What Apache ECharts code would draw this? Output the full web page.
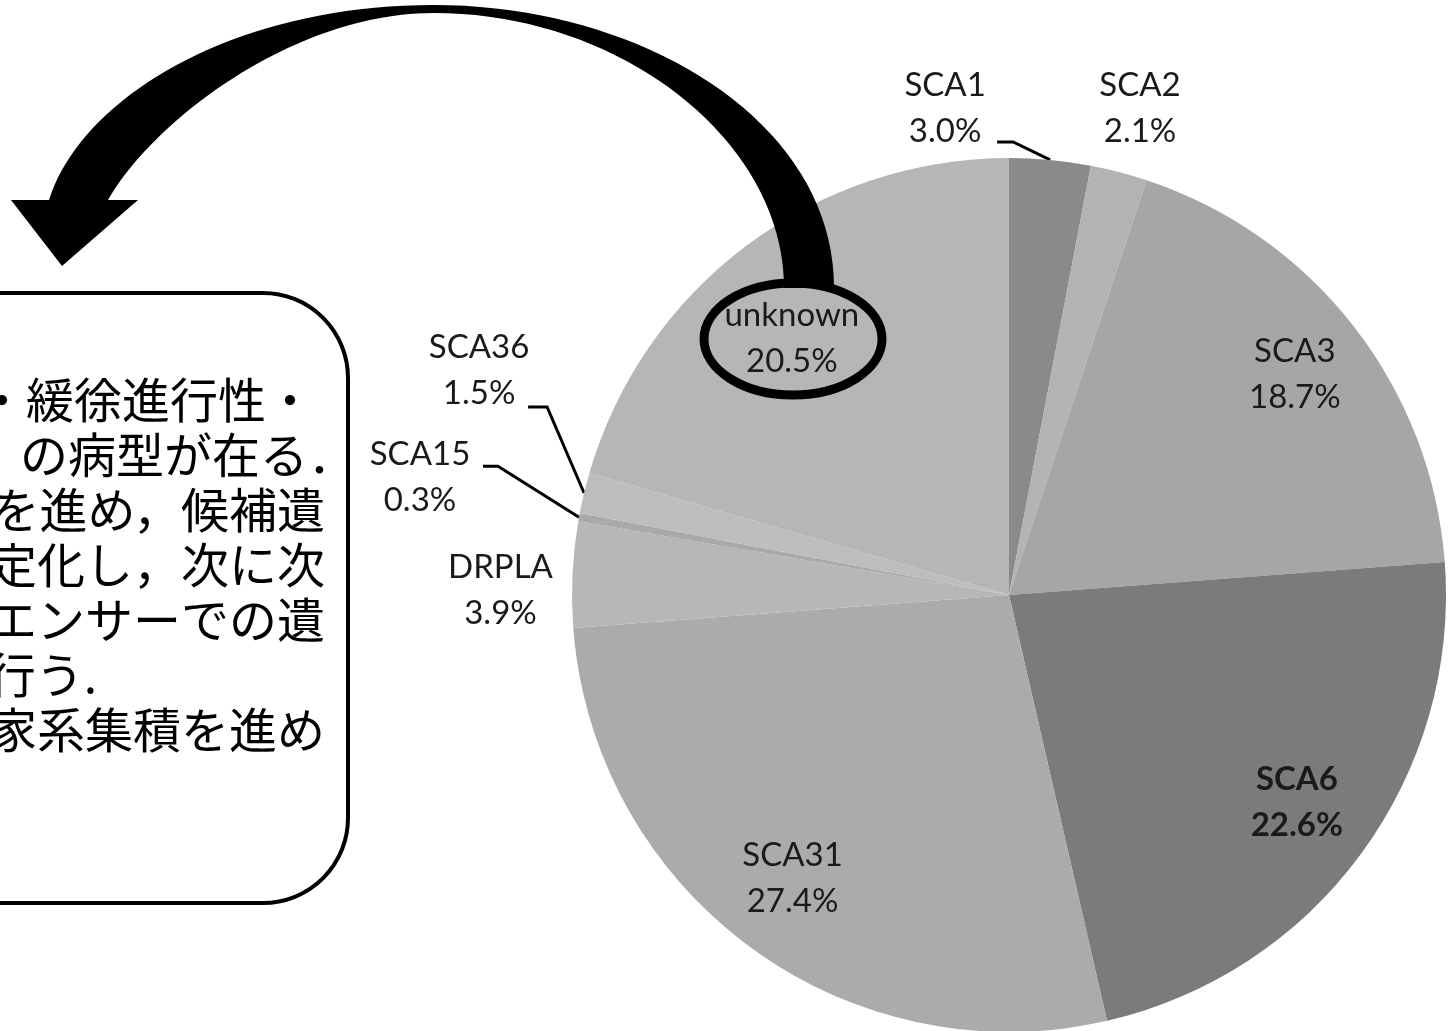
<!DOCTYPE html>
<html><head><meta charset="utf-8">
<script src="https://cdn.jsdelivr.net/npm/echarts@6/dist/echarts.min.js"></script>
<style>html,body{margin:0;padding:0;background:#fff}#c{width:1449px;height:1031px}</style>
</head><body><div id="c"></div>
<script>
// ---- data ----
const categories = ['SCA1', 'SCA2', 'SCA3', 'SCA6', 'SCA31', 'DRPLA', 'SCA15', 'SCA36', 'unknown'];
const percents = [3.0, 2.1, 18.7, 22.6, 27.4, 3.9, 0.3, 1.5, 20.5];
const boxLines = ['・緩徐進行性・', 'の病型が在る．', 'を進め，候補遺', '定化し，次に次', 'エンサーでの遺', '行う.', '家系集積を進め'];

// ---- styles ----
const sliceColors = ['#8a8a8a', '#b3b3b3', '#a6a6a6', '#7b7b7b', '#ababab', '#b7b7b7', '#a9a9a9', '#bdbdbd', '#b6b6b6'];
const insideNames = ['SCA3', 'SCA6', 'SCA31', 'unknown'];
const boldNames = ['SCA6'];
const CX = 1009, CY = 595, R = 437;
const insideNudge = { unknown: [-4, 27], SCA3: [6, -2], SCA6: [2, -3], SCA31: [-6, -3] };
const outsideLayout = {
  SCA1: { label: [-105, -52], line: [[-37, -18], [-53, -18]] },
  SCA2: { label: [21, -64] },
  DRPLA: { label: [-72, 16] },
  SCA15: { label: [-159, -40], line: [[-81, -51], [-96, -51]] },
  SCA36: { label: [-105, -123], line: [[-37, -86], [-56, -86]] }
};
const labelFont = { fontFamily: 'Lato', fontSize: 33, lineHeight: 46, color: '#1a1a1a' };

const total = percents.reduce((a, b) => a + b, 0);
function anchorOf(i) {
  let cum = 0;
  for (let k = 0; k < i; k++) cum += percents[k];
  const mid = (cum + percents[i] / 2) / total * 2 * Math.PI;
  return [CX + R * Math.sin(mid), CY - R * Math.cos(mid)];
}
const fmt = p => p.name + '\n' + Number(p.value).toFixed(1) + '%';

const mainData = categories.map((name, i) => ({
  name, value: percents[i],
  itemStyle: { color: sliceColors[i] },
  label: { show: !insideNames.includes(name) },
  labelLine: { show: !!(outsideLayout[name] && outsideLayout[name].line) }
}));
const ringData = categories.map((name, i) => ({
  name, value: percents[i],
  label: { show: insideNames.includes(name), fontWeight: boldNames.includes(name) ? 'bold' : 'normal' }
}));

// arrow outline built from bezier curves
function bez(p0, p1, p2, p3, n) {
  const pts = [];
  for (let s = 0; s <= n; s++) {
    const t = s / n, u = 1 - t;
    pts.push([
      u*u*u*p0[0] + 3*u*u*t*p1[0] + 3*u*t*t*p2[0] + t*t*t*p3[0],
      u*u*u*p0[1] + 3*u*u*t*p1[1] + 3*u*t*t*p2[1] + t*t*t*p3[1]
    ]);
  }
  return pts;
}
const innerRight = bez([434, 13], [620, 13], [784, 140], [784, 288], 40).reverse();
const innerLeft = bez([108, 200], [150, 125], [290, 13], [434, 13], 40).reverse();
const outerLeft = bez([49, 200], [80, 100], [230, 5], [434, 5], 40);
const outerRight = bez([434, 5], [640, 5], [834, 120], [834, 288], 40);
const arrowPts = [].concat(innerRight, innerLeft, [[138, 200], [62, 266], [11, 200]], outerLeft, outerRight);

const textLayout = [
  { x: 314, y: 400, align: 'right' }, { x: 20, y: 455, align: 'left' }, { x: 325, y: 510, align: 'right' },
  { x: 325, y: 565, align: 'right' }, { x: 325, y: 620, align: 'right' }, { x: 97, y: 675, align: 'right' },
  { x: 325, y: 730, align: 'right' }
];

const graphics = [
  { type: 'rect', z: 50, shape: { x: -120, y: 293, width: 468, height: 610, r: 85 },
    style: { fill: '#fff', stroke: '#000', lineWidth: 4 } },
  ...boxLines.map((t, i) => ({
    type: 'text', z: 51, x: textLayout[i].x, y: textLayout[i].y,
    style: { text: t, font: '48px "Noto Sans CJK JP"', fill: '#000', textAlign: textLayout[i].align, textVerticalAlign: 'middle' }
  })),
  { type: 'polygon', z: 60, shape: { points: arrowPts }, style: { fill: '#000' } },
  { type: 'ellipse', z: 61, shape: { cx: 793, cy: 339, rx: 89, ry: 56 },
    style: { fill: 'none', stroke: '#000', lineWidth: 9 } }
];

const chart = echarts.init(document.getElementById('c'), null, { renderer: 'canvas', width: 1449, height: 1031 });
chart.setOption({
  backgroundColor: '#fff',
  animation: false,
  graphic: graphics,
  series: [
    {
      type: 'pie', center: [CX, CY], radius: R, startAngle: 90, clockwise: true,
      silent: true, avoidLabelOverlap: false, data: mainData,
      label: Object.assign({ position: 'outside', formatter: fmt, align: 'center' }, labelFont),
      labelLine: { lineStyle: { color: '#000', width: 3 }, length: 20, length2: 10 },
      labelLayout: function (p) {
        const name = categories[p.dataIndex];
        const spec = outsideLayout[name];
        if (!spec) return {};
        const a = anchorOf(p.dataIndex);
        const out = { x: a[0] + spec.label[0], y: a[1] + spec.label[1], align: 'center', verticalAlign: 'middle' };
        if (spec.line) out.labelLinePoints = [a].concat(spec.line.map(o => [a[0] + o[0], a[1] + o[1]]));
        return out;
      }
    },
    {
      type: 'pie', center: [CX, CY], radius: [300, 404], startAngle: 90, clockwise: true,
      silent: true, avoidLabelOverlap: false, z: 3, data: ringData,
      itemStyle: { color: 'rgba(0,0,0,0)' },
      label: Object.assign({ position: 'inside', formatter: fmt }, labelFont),
      labelLine: { show: false },
      labelLayout: function (p) {
        const spec = insideNudge[categories[p.dataIndex]];
        if (!spec) return {};
        const r = p.labelRect;
        return { x: r.x + r.width / 2 + spec[0], y: r.y + r.height / 2 + spec[1], align: 'center', verticalAlign: 'middle' };
      }
    }
  ]
});
</script></body></html>
